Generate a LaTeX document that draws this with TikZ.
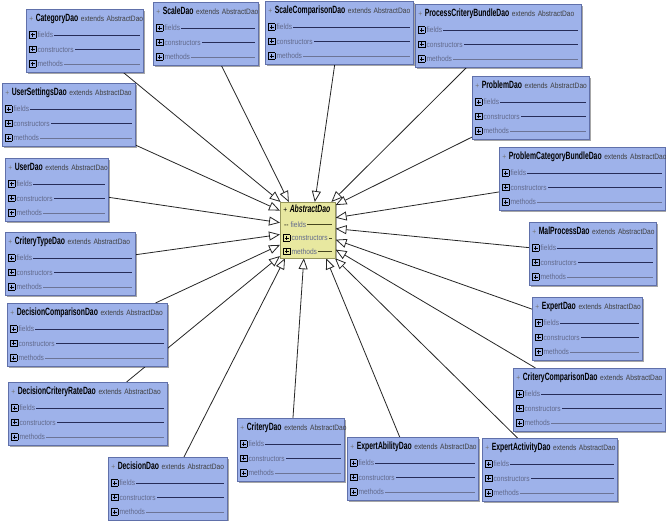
\documentclass[tikz,border=0pt]{standalone}
\usepackage{fontspec}
\setmainfont{Liberation Sans}
\newfontfamily\namefont[FakeStretch=0.65]{Liberation Sans}
\newfontfamily\rowfont[FakeStretch=0.85]{Liberation Sans}
\usetikzlibrary{arrows.meta, shadows, backgrounds}

\definecolor{daofill}{RGB}{158,178,234}
\definecolor{daodraw}{RGB}{96,112,170}
\definecolor{absfill}{RGB}{232,232,160}
\definecolor{absdraw}{RGB}{150,150,92}
\definecolor{rowtext}{RGB}{98,106,140}
\definecolor{rowline}{RGB}{38,44,88}
\definecolor{rowlight}{RGB}{108,116,150}
\definecolor{absline}{RGB}{70,70,30}

% boxed plus of a collapsed compartment
\newcommand{\plusbox}{{\fboxsep=0pt\fboxrule=0.5pt\fbox{\rule{0pt}{6pt}\makebox[6pt]{\rule[2.7pt]{4pt}{0.7pt}\llap{\rule[1pt]{0.7pt}{4pt}\hspace{1.65pt}}}}}}
% rule from the end of the text out to the right border
\newcommand{\compline}[1]{{\color{#1}\leaders\hrule height 3pt depth -2pt\hskip 0pt plus 1fill}}

% header + the three collapsed compartments
\newcommand{\daobody}[1]{%
  \noindent\mbox{{\color{black!55}+} {\namefont\fontsize{10.5}{12}\selectfont\bfseries #1} {\color{black!75}extends AbstractDao}}\\[1.5pt]
  \plusbox\,{\color{rowtext}fields}\,\compline{rowline}\\
  \plusbox\,{\color{rowtext}constructors}\,\compline{rowline}\\
  \plusbox\,{\color{rowtext}methods}\,\compline{rowlight}}

\begin{document}
\begin{tikzpicture}[
    x=1pt, y=-1pt,
    dao/.style={rectangle, draw=daodraw, fill=daofill, line width=0.6pt, anchor=north west,
                align=left, inner xsep=3pt, inner ysep=5pt,
                font=\rowfont\fontsize{7.8}{14.5}\selectfont,
                drop shadow={shadow xshift=1.5pt, shadow yshift=-1.5pt, fill=black, opacity=0.35}},
    base/.style={dao, draw=absdraw, fill=absfill, inner ysep=3pt, font=\rowfont\fontsize{7.8}{13.5}\selectfont},
    gen/.style={draw=black!85, line width=0.8pt, -{Triangle[length=11pt, width=9pt, fill=white]}}
]
\useasboundingbox (0,0) rectangle (666,521);

% --- superclass ---
\node[base, text width=49pt] (abstract) at (280,202) {%
  \noindent\mbox{+ {\namefont\fontsize{10.5}{12}\selectfont\bfseries\itshape AbstractDao}}\\[1pt]
  \makebox[6pt]{--}\,{\color{rowtext}fields}\,\compline{absline}\\
  \plusbox\,{\color{rowtext}constructors}\,\compline{absline}\\
  \plusbox\,{\color{rowtext}methods}\,\compline{absline}};

% --- top row ---
\node[dao, text width=111pt] (cat) at (26,9) {\daobody{CategoryDao}};
\node[dao, text width=99pt] (scale) at (153,2) {\daobody{ScaleDao}};
\node[dao, text width=142pt] (scale_cmp) at (265,1) {\daobody{ScaleComparisonDao}};
\node[dao, text width=160pt] (proc_bundle) at (415,4) {\daobody{ProcessCriteryBundleDao}};

% --- right side ---
\node[dao, text width=111pt] (problem) at (472,76) {\daobody{ProblemDao}};
\node[dao, text width=160pt] (prob_bundle) at (499,147) {\daobody{ProblemCategoryBundleDao}};
\node[dao, text width=121pt] (mal_proc) at (529,222) {\daobody{MalProcessDao}};
\node[dao, text width=104pt] (expert) at (532,297) {\daobody{ExpertDao}};
\node[dao, text width=146pt] (crit_cmp) at (513,368) {\daobody{CriteryComparisonDao}};

% --- bottom row ---
\node[dao, text width=129pt] (exp_activity) at (482,438) {\daobody{ExpertActivityDao}};
\node[dao, text width=125pt] (exp_ability) at (347,437) {\daobody{ExpertAbilityDao}};
\node[dao, text width=101pt] (critery) at (237,418) {\daobody{CriteryDao}};
\node[dao, text width=113pt] (decision) at (108,457) {\daobody{DecisionDao}};

% --- left side ---
\node[dao, text width=153pt] (dec_rate) at (8,382) {\daobody{DecisionCriteryRateDao}};
\node[dao, text width=154pt] (dec_cmp) at (7,303) {\daobody{DecisionComparisonDao}};
\node[dao, text width=124pt] (crit_type) at (5,232) {\daobody{CriteryTypeDao}};
\node[dao, text width=97pt] (user) at (5,158) {\daobody{UserDao}};
\node[dao, text width=127pt] (user_set) at (2,83) {\daobody{UserSettingsDao}};

% --- generalisations, kept under the boxes ---
\begin{scope}[on background layer]
  \fill[white] (0,0) rectangle (666,521);
  \foreach \cls/\ang in {cat/134, user_set/145, user/165, crit_type/189, dec_cmp/208, dec_rate/223,
                         scale/124, scale_cmp/76,
                         proc_bundle/50, problem/42, prob_bundle/24, mal_proc/3, expert/341,
                         crit_cmp/325, exp_activity/314,
                         decision/231, critery/262, exp_ability/303}
    \draw[gen] (\cls) -- (abstract.\ang);
\end{scope}

\end{tikzpicture}
\end{document}
